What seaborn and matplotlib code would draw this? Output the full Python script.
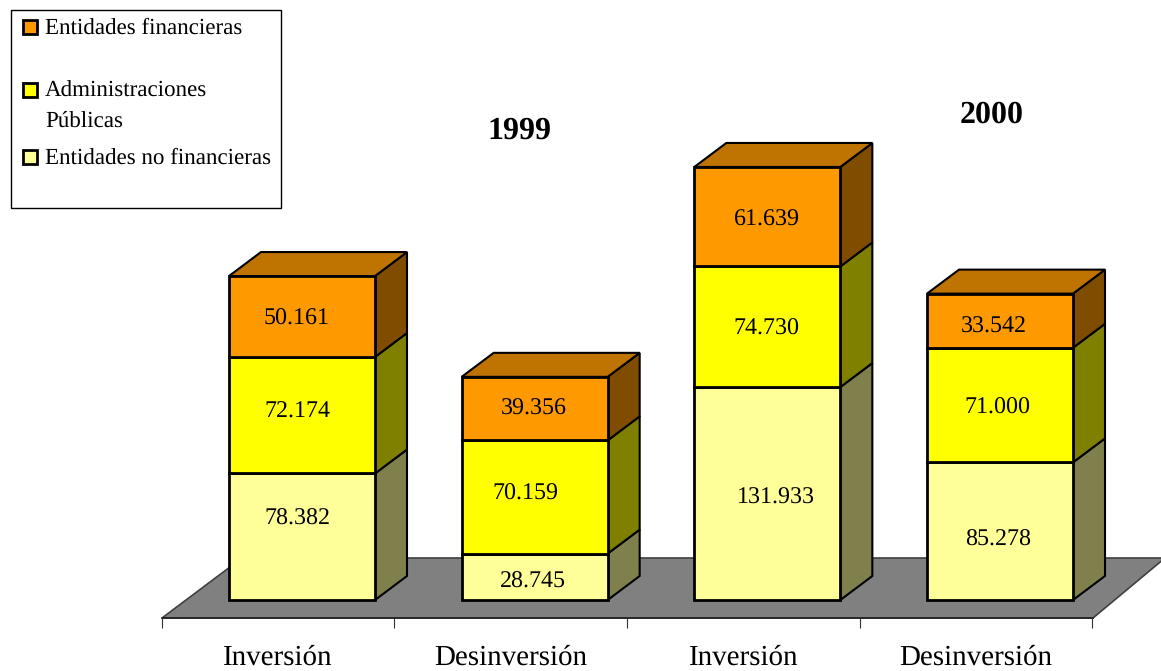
import matplotlib
matplotlib.use("Agg")
import matplotlib.pyplot as plt
import matplotlib.transforms as mtransforms
from matplotlib.patches import Rectangle, Polygon
import pandas as pd
import seaborn as sns

# ---- data ----
bar_ids = ["Inv 1999", "Des 1999", "Inv 2000", "Des 2000"]
tick_labels = ["Inversión", "Desinversión", "Inversión", "Desinversión"]
no_financieras = [78382, 28745, 131933, 85278]
administraciones = [72174, 70159, 74730, 71000]
financieras = [50161, 39356, 61639, 33542]
series_names = ["Entidades no financieras", "Administraciones\nPúblicas", "Entidades financieras"]

# ---- style ----
front_colors = ["#FFFF99", "#FFFF00", "#FF9900"]
side_colors = ["#80804D", "#808000", "#804D00"]
top_color = "#BF7300"
floor_color = "#808080"
W, H = 1161, 671
BASE_PX, AXIS_PX = 600, 618
PX_PER_UNIT = 0.001614
CAT_PX = 232.67
FIRST_CENTER_PX = 302
DEPTH_X, DEPTH_Y = 32, 24
BAR_W = 146 / CAT_PX
SERIF = ["Liberation Serif", "DejaVu Serif"]

sns.set_theme(style="white")
plt.rcParams["font.family"] = SERIF
plt.rcParams["text.color"] = "black"
plt.rcParams["text.hinting"] = "no_hinting"
plt.rcParams["text.hinting_factor"] = 1

fig = plt.figure(figsize=(W / 100, H / 100), dpi=100)
ax = fig.add_axes([0, 0, 1, 1])
ax.patch.set_alpha(0)

px = mtransforms.Affine2D().scale(1, -1).translate(0, H)  # top-left pixel coordinates


def dx(p):
    return p / CAT_PX


def dy(p):
    return p / PX_PER_UNIT


# stacked front faces through seaborn
bottoms = [0, 0, 0, 0]
layers = [no_financieras, administraciones, financieras]
label_dx = [[-5, -1.3, 8.7, -2.3], [-5, -9, -1.3, -2.3], [-5.3, -0.7, 0, -6]]
label_dy = [[19.8, -4, -2.9, -7.4], [4.6, 4.3, -1, -1.7], [-1.2, 1.2, -1.4, -4.6]]
for k, vals in enumerate(layers):
    df = pd.DataFrame({"bar": bar_ids, "value": vals})
    sns.barplot(data=df, x="bar", y="value", order=bar_ids, bottom=bottoms, width=BAR_W,
                color=front_colors[k], saturation=1, edgecolor="black", linewidth=2,
                errorbar=None, ax=ax, zorder=3)
    for i, v in enumerate(vals):
        b = bottoms[i]
        xr = i + BAR_W / 2
        ax.add_patch(Polygon([(xr, b), (xr + dx(DEPTH_X), b + dy(DEPTH_Y)),
                              (xr + dx(DEPTH_X), b + v + dy(DEPTH_Y)), (xr, b + v)],
                             closed=True, facecolor=side_colors[k], edgecolor="black",
                             linewidth=1.5, zorder=2))
        if k == len(layers) - 1:
            xl = i - BAR_W / 2
            t = b + v
            ax.add_patch(Polygon([(xl, t), (xl + dx(DEPTH_X), t + dy(DEPTH_Y)),
                                  (xr + dx(DEPTH_X), t + dy(DEPTH_Y)), (xr, t)],
                                 closed=True, facecolor=top_color, edgecolor="black",
                                 linewidth=1.5, zorder=2))
        ax.annotate(f"{v:,}".replace(",", "."), (i, b + v / 2),
                    xytext=(label_dx[k][i] * 0.72, (label_dy[k][i] - 1.5) * 0.72),
                    textcoords="offset points", ha="center", va="center",
                    fontsize=17.4, color="black", zorder=5)
    bottoms = [b + v for b, v in zip(bottoms, vals)]

# pixel-aligned limits
x0 = -FIRST_CENTER_PX / CAT_PX
ax.set_xlim(x0, x0 + W / CAT_PX)
ax.set_ylim(-(H - BASE_PX) / PX_PER_UNIT, BASE_PX / PX_PER_UNIT)
ax.set_xlabel("")
ax.set_ylabel("")

# floor
ax.add_patch(Polygon([(162, AXIS_PX), (242, 558), (1165, 558), (1093, AXIS_PX)], closed=True,
                     facecolor=floor_color, edgecolor="#404040", linewidth=1.2,
                     transform=px, zorder=1))

# axis
for s in ["top", "left", "right"]:
    ax.spines[s].set_visible(False)
ax.spines["bottom"].set_position(("data", -dy(AXIS_PX - BASE_PX)))
ax.spines["bottom"].set_bounds(dx(162 - FIRST_CENTER_PX), dx(1093 - FIRST_CENTER_PX))
ax.spines["bottom"].set_color("#222222")
ax.spines["bottom"].set_linewidth(1.2)
ax.spines["bottom"].set_zorder(2)
shift = dx(-24)
ax.set_xticks([i + shift for i in range(4)])
ax.set_xticklabels(tick_labels, fontsize=20.8, color="black")
ax.set_xticks([i - 0.5 + shift for i in range(5)], minor=True)
ax.tick_params(axis="x", which="major", length=0, pad=19.5, bottom=True)
ax.tick_params(axis="x", which="minor", length=7, width=0.8, color="#333333", bottom=True)
ax.set_yticks([])

# year titles
ax.text(519, 131, "1999", transform=px, fontsize=23, fontweight="bold", ha="center", va="center", color="black")
ax.text(992, 115, "2000", transform=px, fontsize=23, fontweight="bold", ha="center", va="center", color="black")

# legend box
ax.add_patch(Rectangle((10.5, 9.5), 270, 198, transform=px, facecolor="white",
                       edgecolor="black", linewidth=1, zorder=6))
entries = [(series_names[2], front_colors[2], 27), (series_names[1], front_colors[1], 90),
           (series_names[0], front_colors[0], 157)]
for name, col, y in entries:
    ax.add_patch(Rectangle((22.5, y - 7), 14, 14, transform=px, facecolor=col,
                           edgecolor="black", linewidth=2, zorder=7))
    lines = name.split("\n")
    for j, line in enumerate(lines):
        ax.text(45, y - 1 + 29.5 * j, line, transform=px, fontsize=16.85, ha="left", va="center_baseline",
                color="black", zorder=7)

fig.savefig("out.png", dpi=100)
